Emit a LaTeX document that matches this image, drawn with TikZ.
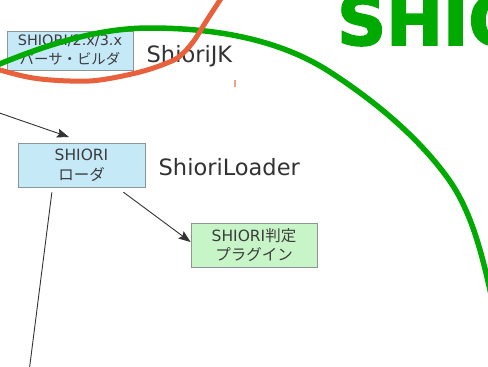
\documentclass[tikz,border=0pt]{standalone}
\usepackage{fontspec}
\setmainfont{DejaVu Sans}
\newfontfamily\jpfont{Noto Sans CJK JP}
\newfontfamily\titlefont[FakeBold=2.5]{DejaVu Sans Bold}
\usetikzlibrary{arrows.meta,calc}
\definecolor{boxblue}{RGB}{198,233,248}
\definecolor{boxgreen}{RGB}{200,245,200}
\definecolor{boxedge}{RGB}{140,150,150}
\definecolor{txt}{RGB}{60,60,60}
\definecolor{lbl}{RGB}{50,50,50}
\definecolor{bigred}{RGB}{232,96,60}
\definecolor{biggreen}{RGB}{0,170,0}
\definecolor{tickred}{RGB}{240,160,140}
\begin{document}
\begin{tikzpicture}[x=1pt,y=-1pt,
  boxnode/.style={draw=boxedge, line width=0.8pt, inner sep=0pt, text=txt, align=center},
  lblnode/.style={anchor=base west, inner sep=0pt, text=lbl, font=\fontsize{22.5}{26}\selectfont},
  conn/.style={draw=black!80, line width=0.9pt},
  arr/.style={conn, -{Stealth[length=12pt,width=9pt,inset=2pt]}}]
\path[use as bounding box, clip] (0,0) rectangle (488,367);
\fill[white] (0,0) rectangle (488,367);

\node[boxnode, fill=boxblue, minimum width=126pt, minimum height=39pt,
      font=\fontsize{14.4}{19}\selectfont] (b1) at (70,50.5)
      {SHIORI/2.x/3.x\\{\jpfont パーサ・ビルダ}};
\node[boxnode, fill=boxblue, minimum width=127pt, minimum height=44pt,
      font=\fontsize{15.5}{20}\selectfont] (b2) at (81.5,165)
      {SHIORI\\{\jpfont ローダ}};
\node[boxnode, fill=boxgreen, minimum width=126pt, minimum height=44pt,
      font=\fontsize{15.5}{18.5}\selectfont] (b3) at (254,245)
      {SHIORI{\jpfont 判定}\\{\jpfont プラグイン}};

\node[lblnode] (l1) at (146.5,62) {ShioriJK};
\node[lblnode] (l2) at (158.5,175) {ShioriLoader};

\node[anchor=base west, inner sep=0pt, text=biggreen,
      font=\titlefont\fontsize{68}{70}\selectfont] (title) at (337,45) {SHIO};

\coordinate (in1) at (-2,112.5);
\coordinate (out3) at (28,380);
\draw[arr, shorten >=17pt] (in1) -- ($(b2.north)+(3.5,0)$);
\draw[arr, shorten <=8pt] ($(b2.south)+(35.5,0)$) -- ($(b3.west)+(0,-3)$);
\draw[conn, shorten <=5pt] ($(b2.south)+(-29,0)$) -- (out3);

\draw[tickred, line width=1.3pt] (235,80) -- (235,87);

\draw[biggreen, line width=5.5pt]
  (-10,68) .. controls (40.7,46.7) and (95,28) .. (150,28)
  .. controls (212,28) and (278,38.2) .. (330,72)
  .. controls (373.6,100.3) and (416.2,135.1) .. (447,177)
  .. controls (468.3,206) and (478.6,242) .. (487,277)
  .. controls (490,289.5) and (494,307) .. (495,320);
\draw[bigred, line width=5pt] plot[smooth, tension=0.6] coordinates
  {(-10,66) (0,70) (33,78) (70,81) (100,80) (140,72) (167,63) (180,56)
   (193,42) (207,20) (222,-3)};
\end{tikzpicture}
\end{document}
